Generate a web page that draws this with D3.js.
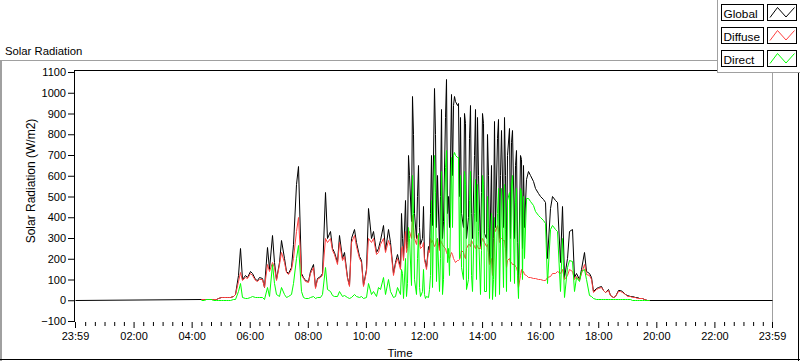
<!DOCTYPE html>
<html><head><meta charset="utf-8">
<script src="https://cdn.jsdelivr.net/npm/d3@7/dist/d3.min.js"></script>
<style>
html,body{margin:0;padding:0;background:#fff;}
svg{display:block;font-family:"Liberation Sans",Arial,sans-serif;}
</style></head>
<body><svg id="c" width="800" height="361"></svg>
<script>
// ---- data (5-minute samples, starting 04:20) ----
const startMinute = 260;   // 04:20
const stepMinutes = 5;
const globalVals = [2,2,3,3,4,5,6,10, 12,13,12,14,15,18, 30,120,250,100,120,110,
 140,130,100,95,110,105, 62,255,150,312,180,100, 180,290,200,140,130,160, 270,560,643,130,110,95,
 90,140,170,60,105,115, 130,520,300,330,250,230, 180,310,200,230,110,70, 300,340,280,210,190,70,
 150,440,300,330,230,250, 290,360,240,340,280,130, 180,220,160,300,480,280, 600,980,420,500,350,300,
 200,160,240,700,1020,350, 250,920,380,1065,500,990, 940,960,950,880,350,850, 400,940,300,920,880,260,
 900,320,800,180,130,860, 780,300,820,880,200,830, 760,300,720,80,680,650, 580,620,600,570,540,515,
 500,485,470,200,440,500, 480,470,180,450,110,200, 330,340,110,130,100,150, 230,140,130,110,40,55,
 62,65,48,38,50,25, 15,20,45,48,40,30, 22,17,16,15,11,10, 8,2,0,0];
const diffuseVals = [2,2,3,3,4,5,6,9, 11,12,12,13,14,17, 28,90,134,95,110,105,
 130,120,95,90,100,100, 60,170,140,180,160,95, 170,230,180,135,125,150, 200,330,400,120,105,90,
 85,130,160,58,100,110, 120,300,280,300,240,220, 170,280,190,210,105,65, 280,310,260,200,180,65,
 140,300,280,300,220,230, 270,300,230,290,260,120, 170,200,150,260,330,250, 330,410,300,310,280,260,
 190,150,230,280,260,290, 240,280,260,230,210,230, 200,180,190,210,230,200, 270,260,280,250,260,250,
 300,280,270,170,120,350, 360,280,300,290,160,200, 180,170,160,60,150,140, 120,110,110,105,105,100,
 100,95,95,110,115,130, 130,140,130,150,100,120, 150,140,100,115,95,130, 170,125,120,100,38,52,
 58,60,45,36,46,23, 14,18,40,44,37,28, 20,16,15,14,10,9, 7,2,0,0];
const directVals = [0,1,2,3,2,1,1,1, 1,1,1,1,1,2, 5,40,80,15,10,10,
 15,20,12,12,15,12, 5,60,20,170,80,30, 20,60,30,15,20,30, 80,200,264,40,15,10,
 10,15,20,8,12,15, 30,160,50,40,25,20, 20,40,20,25,15,10, 15,30,20,15,20,10,
 15,80,30,40,20,60, 50,110,30,100,40,15, 20,60,30,130,200,80, 300,600,100,200,60,40,
 30,20,50,480,700,90, 40,620,100,720,250,690, 700,700,690,600,100,560, 100,620,40,580,560,30,
 600,40,500,10,5,400, 420,30,540,560,40,520, 560,80,540,10,520,500, 490,490,475,455,430,410,
 400,385,370,80,340,360, 340,330,40,300,15,160, 190,185,40,110,90,140, 150,100,25,20,10,5,
 5,6,4,3,3,3, 2,2,3,3,2,2, 2,2,1,1,1,1, 1,0,0,0];
// extra in-between samples for the broken-cloud period (11:12.5 .. 15:27.5, every 5 min)
const midStartMinute = 672.5;
const globalMid = [420,200,250,700,380,800,300,650,270,450,
 180,260,420,360,800,600,500,300,880,420,350,600,
 980,940,500,420,900,300,780,420,700,380,600,520,
 850,300,600,650,300,350,870,600,350,600,700,300,
 820,650,280,700,250,350];
const diffuseMid = [250,190,230,320,300,350,270,300,250,280,
 170,240,300,290,270,300,290,270,250,220,200,220,
 190,190,195,240,210,250,270,290,260,270,250,280,
 290,260,230,200,180,330,340,300,290,250,190,180,
 170,165,140,120,130,125];
const directMid = [150,10,20,350,70,420,30,320,20,150,
 10,15,120,60,520,300,200,30,640,180,120,350,
 710,690,200,160,620,50,480,120,420,100,330,240,
 560,40,350,420,100,20,540,300,60,340,480,90,
 600,470,120,540,100,200];
const dayStart = -1, dayEnd = 1439;  // 23:59 .. 23:59
const yTicks = [-100,0,100,200,300,400,500,600,700,800,900,1000,1100];
const xTickMinutes = [-1,120,240,360,480,600,720,840,960,1080,1200,1320,1439];
const xTickLabels = ["23:59","02:00","04:00","06:00","08:00","10:00","12:00","14:00","16:00","18:00","20:00","22:00","23:59"];
const seriesNames = ["Global","Diffuse","Direct"];
const seriesColors = ["#000000","#ff4040","#00ff00"];

const svg = d3.select("#c");
const x = d3.scaleLinear().domain([dayStart, dayEnd]).range([75, 772]);
const y = d3.scaleLinear().domain([-100, 1100]).range([321, 72]);

// outer frame
svg.append("line").attr("x1",0).attr("x2",800).attr("y1",60.5).attr("y2",60.5).attr("stroke","#a0a0a0");
svg.append("line").attr("x1",1).attr("x2",1).attr("y1",60).attr("y2",361).attr("stroke","#a0a0a0").attr("stroke-width",2);
svg.append("line").attr("x1",0).attr("x2",800).attr("y1",359.5).attr("y2",359.5).attr("stroke","#000");
svg.append("line").attr("x1",798.5).attr("x2",798.5).attr("y1",60).attr("y2",361).attr("stroke","#000");

svg.append("text").attr("x",5).attr("y",55).attr("font-size","11.3px").text("Solar Radiation");

// plot frame
svg.append("line").attr("x1",74).attr("x2",772).attr("y1",70.5).attr("y2",70.5).attr("stroke","#000");
svg.append("line").attr("x1",772.5).attr("x2",772.5).attr("y1",70).attr("y2",322).attr("stroke","#a0a0a0");

// series
const toPts = (vals, mids) => vals.map((v,i)=>({m:startMinute+i*stepMinutes, v}))
  .concat(mids.map((v,i)=>({m:midStartMinute+i*stepMinutes, v})))
  .sort((a,b)=>a.m-b.m);
const gPts = [{m:dayStart,v:0}].concat(toPts(globalVals, globalMid), [{m:dayEnd,v:0}]);
const line = d3.line().x(d=>Math.round(x(d.m))+0.5).y(d=>Math.floor(y(d.v))+0.5);
const all = [gPts, toPts(diffuseVals, diffuseMid), toPts(directVals, directMid)];
all.forEach((pts,i)=>{
  svg.append("path").attr("d",line(pts)).attr("fill","none")
    .attr("stroke",seriesColors[i]).attr("stroke-width",1);
});

// y axis
const ya = svg.append("g").attr("transform","translate(74,0)")
  .call(d3.axisLeft(y).tickValues(yTicks).tickSize(6).tickSizeOuter(0).tickPadding(2).tickFormat(d3.format("d")));
ya.select(".domain").attr("d","M0.5,70V322");
ya.selectAll("text").attr("font-size","11px").attr("font-family","Liberation Sans, Arial, sans-serif").attr("fill","#000");

// x axis
const minor = d3.range(20,1439,20).filter(m=>m%120!==0);
const xm = svg.append("g").attr("transform","translate(0,322)")
  .call(d3.axisBottom(x).tickValues(minor).tickSize(4).tickFormat(""));
xm.select(".domain").remove();
const xa = svg.append("g").attr("transform","translate(0,322)")
  .call(d3.axisBottom(x).tickValues(xTickMinutes).tickSize(6).tickPadding(4)
    .tickFormat((d,i)=>xTickLabels[i]));
xa.select(".domain").remove();
xa.selectAll("text").attr("font-size","11px").attr("font-family","Liberation Sans, Arial, sans-serif").attr("fill","#000");

svg.append("text").attr("transform","translate(35,181) rotate(-90)").attr("text-anchor","middle")
  .attr("font-size","12px").text("Solar Radiation (W/m2)");
svg.append("text").attr("x",400).attr("y",357).attr("text-anchor","middle").attr("font-size","11.5px").text("Time");

// legend
const lg = svg.append("g");
lg.append("rect").attr("x",717).attr("y",0).attr("width",83).attr("height",72).attr("fill","#fff");
lg.append("line").attr("x1",717.5).attr("x2",717.5).attr("y1",0).attr("y2",73).attr("stroke","#a0a0a0");
lg.append("line").attr("x1",717).attr("x2",800).attr("y1",72.5).attr("y2",72.5).attr("stroke","#a0a0a0");
seriesNames.forEach((n,i)=>{
  const oy = 4.5 + i*23;
  lg.append("rect").attr("x",721.5).attr("y",oy).attr("width",42).attr("height",16)
    .attr("fill","#fff").attr("stroke","#000");
  lg.append("text").attr("x",723.5).attr("y",oy+13.8).attr("font-size","11.8px").text(n);
  lg.append("rect").attr("x",767.5).attr("y",oy).attr("width",29).attr("height",16)
    .attr("fill","#fff").attr("stroke","#000");
  lg.append("polyline").attr("points",[[770,oy+13],[777.5,oy+3],[786,oy+12.5],[794.5,oy+3]].map(p=>p.join(",")).join(" "))
    .attr("fill","none").attr("stroke",seriesColors[i]);
});
</script></body></html>
